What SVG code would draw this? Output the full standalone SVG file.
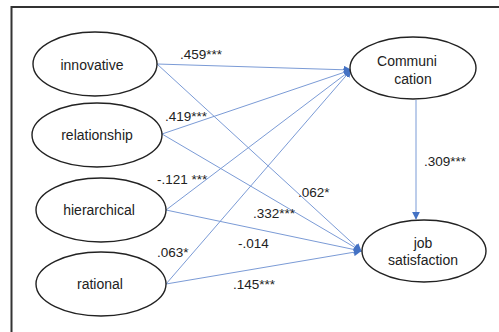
<svg xmlns="http://www.w3.org/2000/svg" width="499" height="332" viewBox="0 0 499 332">
<defs>
<marker id="arr" viewBox="0 0 10 10" refX="9" refY="5" markerWidth="8" markerHeight="8" markerUnits="userSpaceOnUse" orient="auto">
<path d="M0,0 L10,5 L0,10 z" fill="#4472C4"/>
</marker>
</defs>
<style>
.node ellipse{fill:#fff;stroke:#222;stroke-width:1.4}
.node text{font-family:"Liberation Sans","Noto Sans",Arial,sans-serif;font-size:14px;fill:#222;text-anchor:middle}
.edges line{stroke:#7B9BD6;stroke-width:1;marker-end:url(#arr)}
.lbl{font-family:"Liberation Sans","Noto Sans",Arial,sans-serif;font-size:13.5px;fill:#222}
</style>
<rect x="0" y="0" width="499" height="332" fill="#fff"/>
<path d="M11.5,332 L11.5,7 L499,7" fill="none" stroke="#333" stroke-width="2"/>
<g class="edges">
<line x1="157" y1="64" x2="351" y2="70"/>
<line x1="162" y1="134" x2="351" y2="70"/>
<line x1="166" y1="210" x2="351" y2="70"/>
<line x1="166" y1="284" x2="351" y2="70"/>
<line x1="157" y1="64" x2="361" y2="251"/>
<line x1="162" y1="134" x2="361" y2="251"/>
<line x1="166" y1="210" x2="361" y2="251"/>
<line x1="166" y1="284" x2="361" y2="251"/>
<line x1="416" y1="100" x2="416" y2="219"/>
</g>
<g id="innovative" class="node"><ellipse cx="95" cy="64" rx="62" ry="32"/><text x="92" y="70">innovative</text></g>
<g id="relationship" class="node"><ellipse cx="97" cy="135" rx="65" ry="32"/><text x="97" y="140">relationship</text></g>
<g id="hierarchical" class="node"><ellipse cx="101" cy="210" rx="65" ry="32"/><text x="99" y="215">hierarchical</text></g>
<g id="rational" class="node"><ellipse cx="101" cy="284" rx="65" ry="32"/><text x="100" y="289">rational</text></g>
<g id="communication" class="node"><ellipse cx="413" cy="68" rx="63" ry="31"/><text x="407" y="66">Communi</text><text x="413" y="84">cation</text></g>
<g id="jobsatisfaction" class="node"><ellipse cx="424" cy="251" rx="62" ry="31"/><text x="423" y="248">job</text><text x="423" y="265">satisfaction</text></g>
<g id="labels">
<text class="lbl" x="180" y="59">.459***</text>
<text class="lbl" x="165" y="121">.419***</text>
<text class="lbl" x="157" y="184">-.121 ***</text>
<text class="lbl" x="157" y="257">.063*</text>
<text class="lbl" x="238" y="248">-.014</text>
<text class="lbl" x="233" y="289">.145***</text>
<text class="lbl" x="253" y="218">.332***</text>
<text class="lbl" x="298" y="197">.062*</text>
<text class="lbl" x="424" y="166">.309***</text>
</g>
</svg>
